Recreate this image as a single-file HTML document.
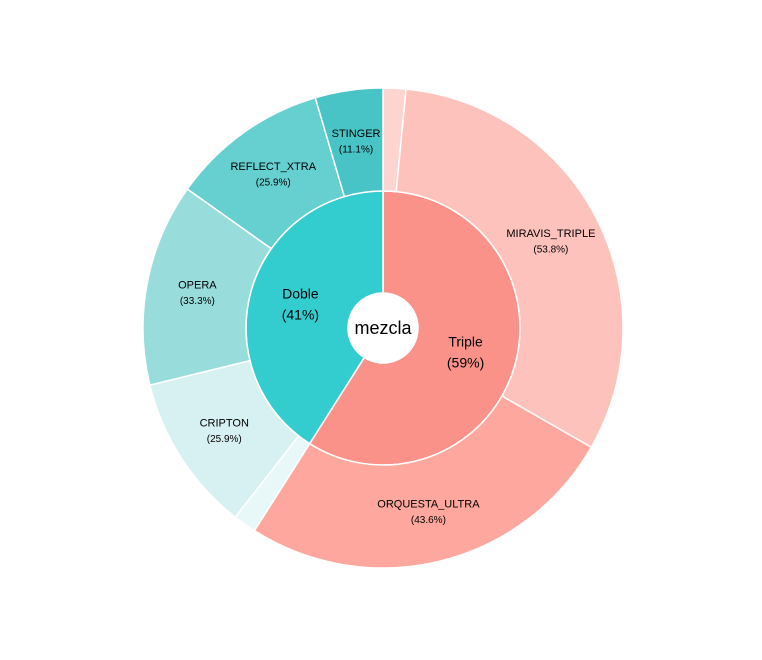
<!DOCTYPE html>
<html><head><meta charset="utf-8"><style>
body{margin:0;background:#fff;}
svg{display:block;font-family:"Liberation Sans",Arial,sans-serif;}
</style></head><body>
<svg id="chart" width="762" height="660"></svg>
<script>
const innerLabels = ["Triple","Doble"];
const innerValues = [59,41];
const innerColors = ["#fa928a","#33cccf"];
const tripleChildren = ["","MIRAVIS_TRIPLE","ORQUESTA_ULTRA"];
const tripleValues = [2.6,53.8,43.6];
const tripleColors = ["#fdd4d0","#fec2bc","#fea79e"];
const dobleChildren = ["","CRIPTON","OPERA","REFLECT_XTRA","STINGER"];
const dobleValues = [3.8,25.9,33.3,25.9,11.1];
const dobleColors = ["#e8f7f7","#d7f0f1","#99dcdc","#66cfd0","#48c4c6"];

const cx=383, cy=328, r0=35, r1=137, r2=240;
const svg=document.getElementById('chart');
const NS="http://www.w3.org/2000/svg";
function pt(r,a){const t=a*Math.PI/180;return [cx+r*Math.sin(t), cy-r*Math.cos(t)];}
function arc(ri,ro,a0,a1){
  const L=(a1-a0)>180?1:0;
  const p1=pt(ro,a0),p2=pt(ro,a1),p3=pt(ri,a1),p4=pt(ri,a0);
  return `M${p1}A${ro},${ro} 0 ${L} 1 ${p2}L${p3}A${ri},${ri} 0 ${L} 0 ${p4}Z`;
}
function slice(ri,ro,a0,a1,color,name){
  const p=document.createElementNS(NS,'path');
  p.setAttribute('d',arc(ri,ro,a0,a1));
  p.setAttribute('fill',color);p.setAttribute('stroke','#fff');p.setAttribute('stroke-width','1.5');
  
  
  svg.appendChild(p);
}
function label(r,a,l1,l2,s1,s2,gap,name){
  const [x,y]=pt(r,a);
  const t=document.createElementNS(NS,'text');
  t.setAttribute('text-anchor','middle');t.setAttribute('fill','#000');
  
  
  t.innerHTML=`<tspan x="${x}" y="${y-gap/2+s1*0.35}" font-size="${s1}">${l1}</tspan><tspan x="${x}" y="${y+gap/2+s2*0.35}" font-size="${s2}">${l2}</tspan>`;
  svg.appendChild(t);
}
const innerTotal=innerValues.reduce((a,b)=>a+b,0);
const childSets=[[tripleChildren,tripleValues,tripleColors],[dobleChildren,dobleValues,dobleColors]];
let a=0;
innerValues.forEach((v,i)=>{
  const span=v/innerTotal*360, a0=a, a1=a+span;
  slice(r0,r1,a0,a1,innerColors[i],'inner-slice-'+innerLabels[i].toLowerCase());
  const [names,vals,cols]=childSets[i];
  const tot=vals.reduce((x,y)=>x+y,0);
  let b=a0;
  vals.forEach((cv,j)=>{
    const s=cv/tot*span;
    slice(r1,r2,b,b+s,cols[j],'outer-slice-'+(names[j]||'other').toLowerCase().replace(/_/g,'-'));
    if(names[j]) label(189,b+s/2,names[j],'('+cv+'%)',11,10,16,'label-'+names[j].toLowerCase().replace(/_/g,'-'));
    b+=s;
  });
  label(86,(a0+a1)/2,innerLabels[i],'('+v+'%)',14,14,21,'label-'+innerLabels[i].toLowerCase());
  a=a1;
});
const c=document.createElementNS(NS,'circle');
c.setAttribute('cx',cx);c.setAttribute('cy',cy);c.setAttribute('r',r0);c.setAttribute('fill','#fff');


svg.appendChild(c);
const ct=document.createElementNS(NS,'text');
ct.setAttribute('x',cx);ct.setAttribute('y',cy+6);ct.setAttribute('text-anchor','middle');ct.setAttribute('font-size','18');
ct.textContent='mezcla';


svg.appendChild(ct);
</script>
</body></html>
